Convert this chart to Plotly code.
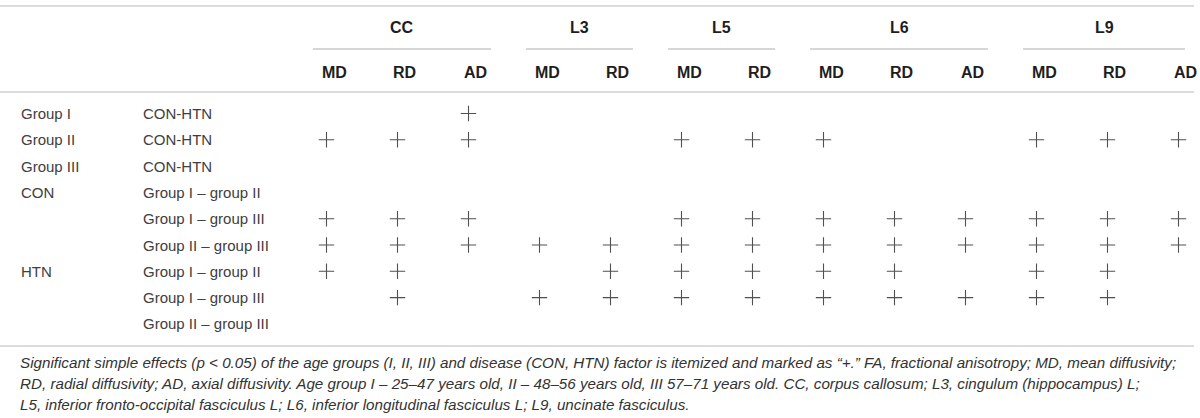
import plotly.graph_objects as go

# --- table content ---
tracts = ["CC", "L3", "L5", "L6", "L9"]
tract_measures = [
    ["MD", "RD", "AD"],
    ["MD", "RD"],
    ["MD", "RD"],
    ["MD", "RD", "AD"],
    ["MD", "RD", "AD"],
]
factor_labels = ["Group I", "Group II", "Group III", "CON", "", "", "HTN", "", ""]
contrast_labels = [
    "CON-HTN", "CON-HTN", "CON-HTN",
    "Group I – group II", "Group I – group III", "Group II – group III",
    "Group I – group II", "Group I – group III", "Group II – group III",
]
# 1 = significant ("+"), columns: CC MD RD AD | L3 MD RD | L5 MD RD | L6 MD RD AD | L9 MD RD AD
significant = [
    [0, 0, 1, 0, 0, 0, 0, 0, 0, 0, 0, 0, 0],
    [1, 1, 1, 0, 0, 1, 1, 1, 0, 0, 1, 1, 1],
    [0, 0, 0, 0, 0, 0, 0, 0, 0, 0, 0, 0, 0],
    [0, 0, 0, 0, 0, 0, 0, 0, 0, 0, 0, 0, 0],
    [1, 1, 1, 0, 0, 1, 1, 1, 1, 1, 1, 1, 1],
    [1, 1, 1, 1, 1, 1, 1, 1, 1, 1, 1, 1, 1],
    [1, 1, 0, 0, 1, 1, 1, 1, 1, 0, 1, 1, 0],
    [0, 1, 0, 1, 1, 1, 1, 1, 1, 1, 1, 1, 0],
    [0, 0, 0, 0, 0, 0, 0, 0, 0, 0, 0, 0, 0],
]
footnote = [
    "Significant simple effects (p &lt; 0.05) of the age groups (I, II, III) and disease (CON, HTN) factor is itemized and marked as “+.” FA, fractional anisotropy; MD, mean diffusivity;",
    "RD, radial diffusivity; AD, axial diffusivity. Age group I – 25–47 years old, II – 48–56 years old, III 57–71 years old. CC, corpus callosum; L3, cingulum (hippocampus) L;",
    "L5, inferior fronto-occipital fasciculus L; L6, inferior longitudinal fasciculus L; L9, uncinate fasciculus.",
]

# --- layout (axis units = page pixels) ---
W, H = 1200, 418
FONT = "Liberation Sans, Arial, Helvetica, sans-serif"
COL0, COL_STEP = 320, 71
ROW0, ROW_STEP = 113.5, 26.3
LINE_RIGHT = 1194

col_left = [COL0 + COL_STEP * i for i in range(sum(len(m) for m in tract_measures))]
row_y = [ROW0 + ROW_STEP * i for i in range(len(contrast_labels))]

fig = go.Figure()
ann = []
shapes = []

def hline(y, x0, x1, color="#dcdcdc", width=2):
    shapes.append(dict(type="line", xref="x", yref="y", x0=x0, x1=x1, y0=y, y1=y,
                       line=dict(color=color, width=width)))

hline(6, 0, LINE_RIGHT)
hline(92, 0, LINE_RIGHT)
hline(346, 0, LINE_RIGHT)

hdr_font = dict(family=FONT, size=16, color="#1e1e1e", weight="bold")
body_font = dict(family=FONT, size=15, color="#404040")

# column headers
ci = 0
for tract, meas in zip(tracts, tract_measures):
    first, last = col_left[ci], col_left[ci + len(meas) - 1]
    x0, x1 = first - 7, min(last + 29, 1185)
    hline(49, x0, x1, color="#c8c8c8", width=1.5)
    ann.append(dict(x=(x0 + x1) / 2, y=27, text=tract, xanchor="center", yanchor="middle",
                    font=hdr_font, showarrow=False))
    for m in meas:
        ann.append(dict(x=col_left[ci], y=72, text=m, xanchor="left", yanchor="middle",
                        font=hdr_font, showarrow=False))
        ci += 1

# row labels
for y, f, c in zip(row_y, factor_labels, contrast_labels):
    if f:
        ann.append(dict(x=19, y=y, text=f, xanchor="left", yanchor="middle",
                        font=body_font, showarrow=False))
    ann.append(dict(x=141, y=y, text=c, xanchor="left", yanchor="middle",
                    font=body_font, showarrow=False))

# plus marks
px, py = [], []
for r, row in enumerate(significant):
    for c, v in enumerate(row):
        if v:
            px.append(col_left[c] + 6.5)
            py.append(row_y[r])
fig.add_trace(go.Scatter(x=px, y=py, mode="markers", hoverinfo="skip", cliponaxis=False,
                         marker=dict(symbol="cross-thin", size=11,
                                     line=dict(color="#505050", width=1.1))))

# footnote
for i, t in enumerate(footnote):
    ann.append(dict(x=18, y=362 + 21 * i, text="<i>" + t + "</i>", xanchor="left", yanchor="middle",
                    font=dict(family=FONT, size=15.2, color="#333"), showarrow=False))

fig.update_layout(
    width=W, height=H,
    margin=dict(l=0, r=0, t=0, b=0),
    paper_bgcolor="white", plot_bgcolor="white",
    showlegend=False,
    annotations=ann, shapes=shapes,
    xaxis=dict(range=[0, W], visible=False, fixedrange=True),
    yaxis=dict(range=[H, 0], visible=False, fixedrange=True),
)
fig.write_html("out.html", config={"displayModeBar": False},
               post_script="document.body.style.margin='0';document.body.style.overflow='hidden';")
